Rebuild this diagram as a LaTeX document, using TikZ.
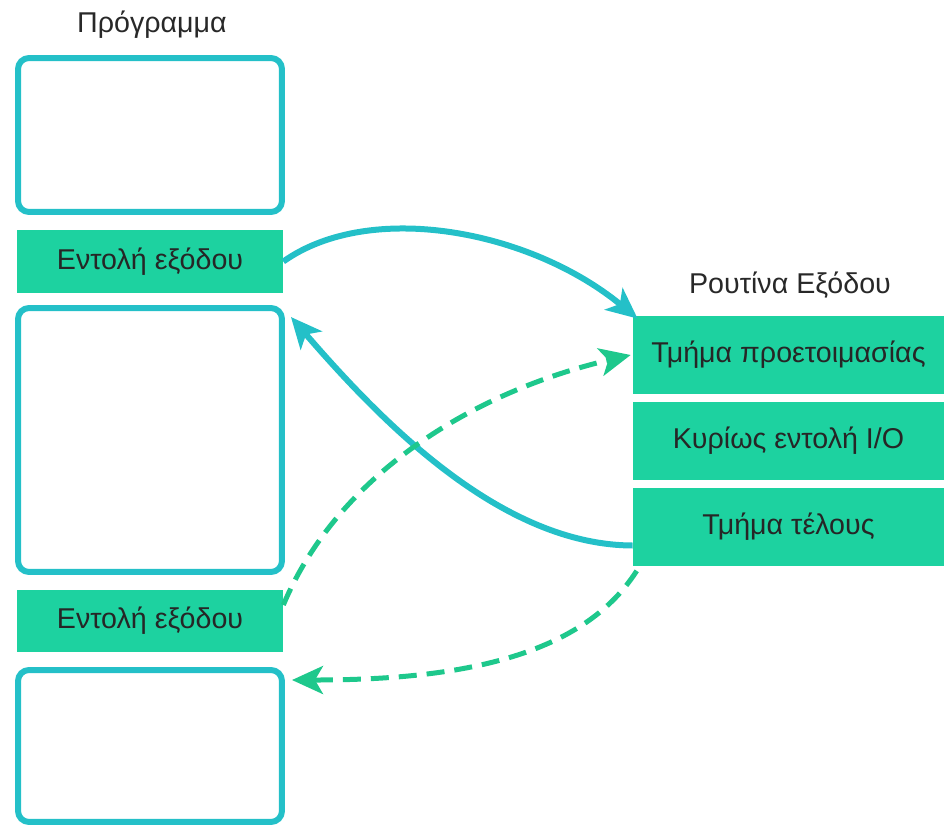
\documentclass[tikz,border=0pt]{standalone}
\usepackage{fontspec}
\setmainfont{Liberation Sans}
\usetikzlibrary{shapes,arrows.meta,positioning,calc}
\definecolor{progteal}{RGB}{36,192,200}
\definecolor{instrgreen}{RGB}{29,210,160}
\definecolor{dashgreen}{RGB}{30,200,140}
\definecolor{labelgray}{RGB}{40,40,40}

\begin{document}
\begin{tikzpicture}[x=0.02cm, y=-0.02cm,
    progbox/.style={draw=progteal, line width=0.12cm, rounded corners=0.22cm, minimum width=5.28cm},
    instr/.style={fill=instrgreen, minimum width=5.32cm, minimum height=1.25cm, font=\fontsize{16.3}{19}\selectfont, text=black!85},
    rowbox/.style={fill=instrgreen, minimum width=6.22cm, minimum height=1.56cm, font=\fontsize{16.3}{19}\selectfont, text=black!85},
    title/.style={font=\fontsize{16.3}{19}\selectfont, text=labelgray},
    callarrow/.style={draw=progteal, line width=0.12cm, -{Stealth[length=0.62cm, width=0.56cm, inset=0.16cm]}},
    jumparrow/.style={draw=dashgreen, line width=0.1cm, dash pattern=on 0.36cm off 0.2cm, -{Stealth[length=0.62cm, width=0.56cm, inset=0.16cm]}}]
  \useasboundingbox (0,0) rectangle (944,829);

  % Program (left)
  \node[title] (progtitle) at (152,25) {Πρόγραμμα};
  \node[progbox, minimum height=3.08cm] (p1) at (150,135) {};
  \node[instr] (out1) at (150,261.5) {Εντολή εξόδου};
  \node[progbox, minimum height=5.28cm] (p2) at (150,440) {};
  \node[instr] (out2) at (150,621) {Εντολή εξόδου};
  \node[progbox, minimum height=3.04cm] (p3) at (150,746) {};

  % Output routine (right)
  \node[title] (routtitle) at (790,285) {Ρουτίνα Εξόδου};
  \node[rowbox] (r1) at (788.5,355) {Τμήμα προετοιμασίας};
  \node[rowbox] (r2) at (788.5,441) {Κυρίως εντολή I/O};
  \node[rowbox] (r3) at (788.5,526.5) {Τμήμα τέλους};

  % First call and return
  \draw[callarrow] (out1.east) .. controls (370,200) and (530,230) .. ([xshift=0.1cm, yshift=-0.06cm]r1.north west);
  \draw[callarrow] ([yshift=-0.38cm]r3.west) .. controls (500,545) and (380,420) .. ([xshift=0.12cm, yshift=-0.24cm]p2.north east);

  % Second call and return
  \draw[jumparrow] ([yshift=0.32cm]out2.east) .. controls (340,470) and (480,390) .. ([xshift=-0.04cm]r1.west);
  \draw[jumparrow] ([xshift=0.08cm, yshift=-0.1cm]r3.south west) .. controls (580,660) and (450,680) .. ([xshift=0.14cm, yshift=-0.26cm]p3.north east);
\end{tikzpicture}
\end{document}
